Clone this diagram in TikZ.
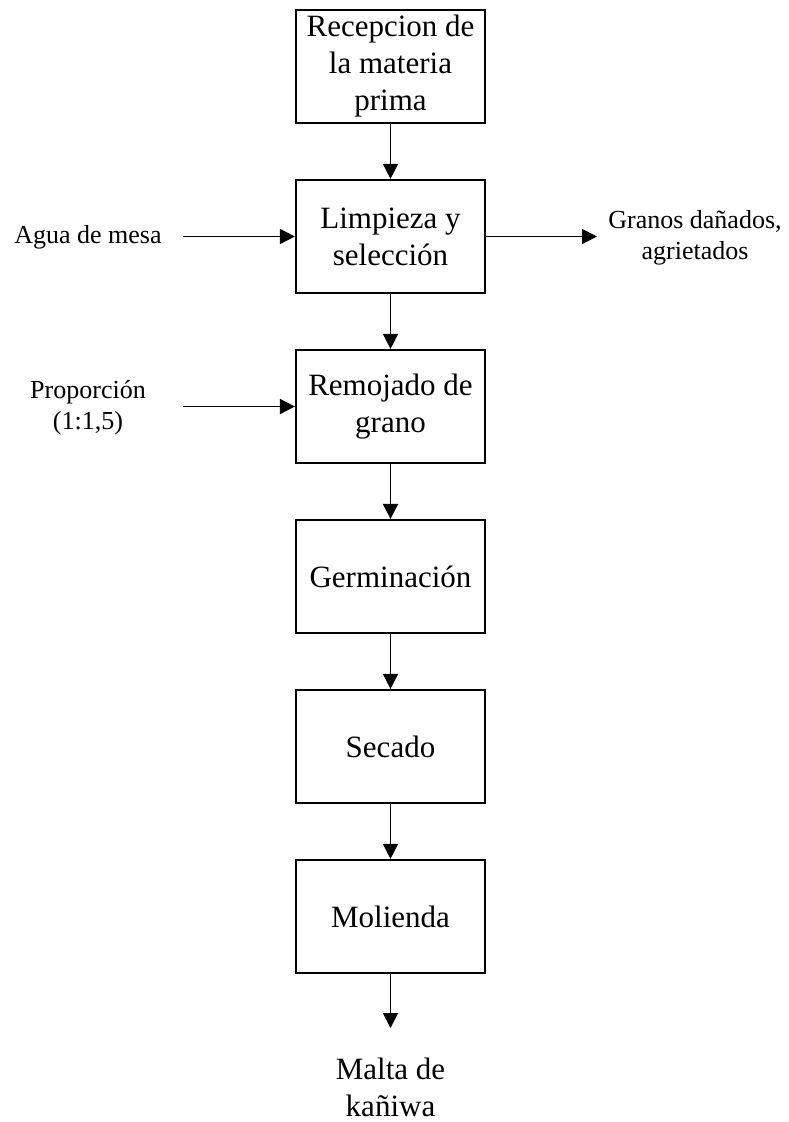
\documentclass[tikz,border=0pt]{standalone}
\usepackage{fontspec}
\setmainfont{Liberation Serif}
\usetikzlibrary{arrows.meta}
\begin{document}
\begin{tikzpicture}[x=1pt,y=-1pt,
  stagebox/.style={draw, line width=2.2pt, minimum width=189pt, minimum height=113pt,
    inner sep=0pt, align=center, font=\fontsize{31}{37}\selectfont},
  sidelabel/.style={inner sep=0pt, align=center, font=\fontsize{26}{31}\selectfont},
  biglabel/.style={inner sep=0pt, align=center, font=\fontsize{31}{37}\selectfont},
  arr/.style={line width=1.7pt, -{Triangle[length=15pt,width=15pt]}}]
\useasboundingbox (0,0) rectangle (788,1122);
\node[stagebox] (b1) at (390.5,66.5) {Recepcion de\\la materia\\prima};
\node[stagebox] (b2) at (390.5,236.5) {Limpieza y\\selección};
\node[stagebox] (b3) at (390.5,406.5) {Remojado de\\grano};
\node[stagebox] (b4) at (390.5,576.5) {Germinación};
\node[stagebox] (b5) at (390.5,746.5) {Secado};
\node[stagebox] (b6) at (390.5,916.5) {Molienda};
\node[biglabel] (out) at (390.5,1087) {Malta de\\kañiwa};
\coordinate (outtip) at (390.5,1028);
\node[sidelabel] (agua) at (88,237) {Agua de mesa};
\coordinate (aguastart) at (183,236.5);
\node[sidelabel] (prop) at (88,407.5) {Proporción\\(1:1,5)};
\coordinate (propstart) at (183,406.5);
\node[sidelabel] (granos) at (695,237.5) {Granos dañados,\\agrietados};
\coordinate (granostip) at (597,236.5);
\draw[arr] (b1) -- (b2);
\draw[arr] (b2) -- (b3);
\draw[arr] (b3) -- (b4);
\draw[arr] (b4) -- (b5);
\draw[arr] (b5) -- (b6);
\draw[arr] (b6) -- (outtip);
\draw[arr] (aguastart) -- (b2.west);
\draw[arr] (propstart) -- (b3.west);
\draw[arr] (b2.east) -- (granostip);
\end{tikzpicture}
\end{document}
